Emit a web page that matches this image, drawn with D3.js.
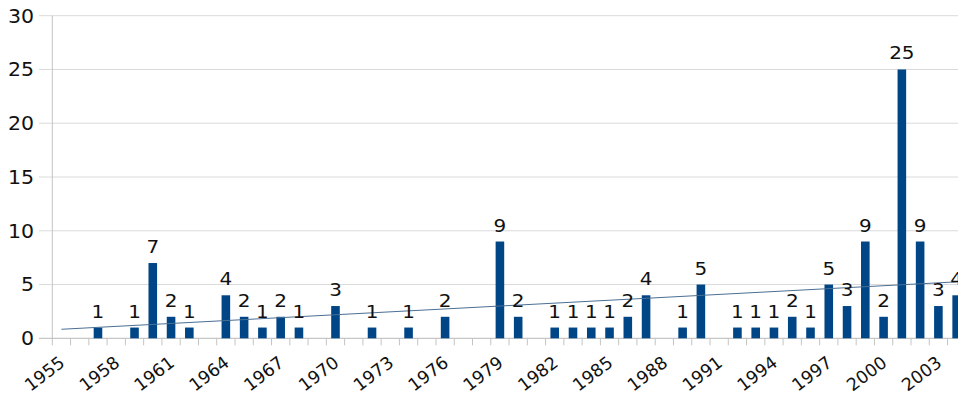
<!DOCTYPE html>
<html>
<head>
<meta charset="utf-8">
<script src="https://cdn.jsdelivr.net/npm/d3@7"></script>
<style>
  html, body { margin: 0; padding: 0; background: #fff; overflow: hidden; }
  svg { display: block; }
  text { font-family: "DejaVu Sans", sans-serif; fill: #111; }
</style>
</head>
<body>
<svg id="chart" width="958" height="394"></svg>
<script>
// ---- data ----
const years = [1955,1956,1957,1958,1959,1960,1961,1962,1963,1964,1965,1966,1967,1968,1969,
  1970,1971,1972,1973,1974,1975,1976,1977,1978,1979,1980,1981,1982,1983,1984,1985,1986,1987,
  1988,1989,1990,1991,1992,1993,1994,1995,1996,1997,1998,1999,2000,2001,2002,2003,2004];
const counts = [0,0,1,0,1,7,2,1,0,4,2,1,2,1,0,
  3,0,1,0,1,0,2,0,0,9,2,0,1,1,1,1,2,4,
  0,1,5,0,1,1,1,2,1,5,3,9,2,25,9,3,4];
const yTicks = [0,5,10,15,20,25,30];
const xTickLabels = [1955,1958,1961,1964,1967,1970,1973,1976,1979,1982,1985,1988,1991,1994,1997,2000,2003];
const trendYears = [1955, 2004];
const trendValues = [0.84, 5.25];

// ---- layout ----
const svg = d3.select("#chart");
const mLeft = 52.3, mTop = 15.7, mBottom = 338.3;
const step = 18.27;
const mRight = mLeft + step * years.length;
const stretch = 1.08;

const x = d3.scaleBand().domain(years).range([mLeft, mRight]).padding(0);
const y = d3.scaleLinear().domain([0, 30]).range([mBottom, mTop]);
const bw = x.bandwidth();

// gridlines + y ticks
svg.append("g").selectAll("line").data(yTicks).join("line")
  .attr("x1", 39).attr("x2", 958)
  .attr("y1", d => y(d)).attr("y2", d => y(d))
  .attr("stroke", d => d === 0 ? "#b8b8b8" : "#dadada").attr("stroke-width", 1);

// y axis line
svg.append("line").attr("x1", mLeft).attr("x2", mLeft)
  .attr("y1", mTop).attr("y2", mBottom + 7)
  .attr("stroke", "#c4c4c4").attr("stroke-width", 1);

// x ticks at band boundaries
svg.append("g").selectAll("line").data(years).join("line")
  .attr("x1", d => x(d) + bw).attr("x2", d => x(d) + bw)
  .attr("y1", mBottom).attr("y2", mBottom + 7)
  .attr("stroke", "#c4c4c4").attr("stroke-width", 1);

// y labels
svg.append("g").selectAll("text").data(yTicks).join("text")
  .attr("transform", d => `translate(34,${y(d)}) scale(${stretch},1)`)
  .attr("text-anchor", "end").attr("dy", "0.36em")
  .attr("font-size", 19)
  .text(d => d);

// bars
const barW = bw * 0.47;
const data = years.map((yr, i) => ({ yr, v: counts[i] }));
svg.append("g").selectAll("rect").data(data.filter(d => d.v > 0)).join("rect")
  .attr("x", d => x(d.yr) + (bw - barW) / 2)
  .attr("width", barW)
  .attr("y", d => y(d.v))
  .attr("height", d => y(0) - y(d.v))
  .attr("fill", "#004586");

// trend line
svg.append("line")
  .attr("x1", x(trendYears[0]) + bw / 2).attr("y1", y(trendValues[0]))
  .attr("x2", x(trendYears[1]) + bw / 2).attr("y2", y(trendValues[1]))
  .attr("stroke", "#4a6f94").attr("stroke-width", 1);

// value labels
svg.append("g").selectAll("text").data(data.filter(d => d.v > 0)).join("text")
  .attr("transform", d => `translate(${x(d.yr) + bw / 2},${y(d.v) - 10}) scale(${stretch},1)`)
  .attr("text-anchor", "middle")
  .attr("font-size", 18.5)
  .text(d => d.v);

// x labels rotated
svg.append("g").selectAll("text").data(xTickLabels).join("text")
  .attr("transform", d => `translate(${x(d) + bw / 2 - 3},355) rotate(-37)`)
  .attr("text-anchor", "end").attr("dy", "0.72em")
  .attr("font-size", 17.5)
  .text(d => d);
</script>
</body>
</html>
